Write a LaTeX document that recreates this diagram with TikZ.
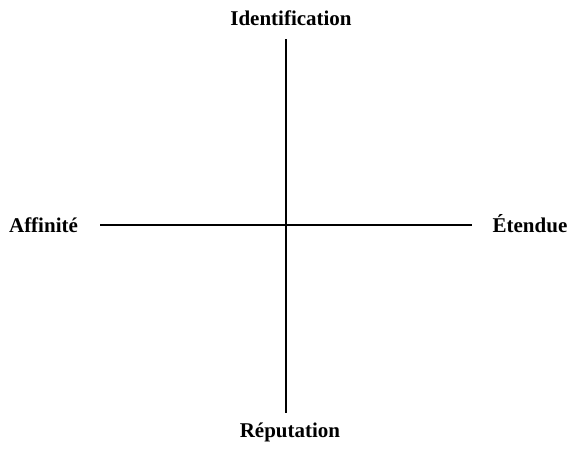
\documentclass[tikz,border=0pt]{standalone}
\usepackage{fontspec}
\setmainfont{Liberation Serif}
\begin{document}
\begin{tikzpicture}[x=1pt,y=-1pt,line cap=butt,
  axislabel/.style={font=\fontsize{21}{25}\selectfont\bfseries,inner sep=0pt,anchor=base},
  axis/.style={line width=1.1pt}]
\useasboundingbox (0,0) rectangle (571,450);
% labels
\node[axislabel] (ident) at (291,25) {Identification};
\node[axislabel] (repu) at (290,437) {Réputation};
\node[axislabel] (affin) at (43.5,232) {Affinité};
\node[axislabel] (etend) at (530,232) {Étendue};
% axes
\coordinate (top) at (286,39);
\coordinate (bottom) at (286,413);
\coordinate (left) at (100,225);
\coordinate (right) at (472,225);
\draw[axis] (top) -- (bottom) (left) -- (right);
\end{tikzpicture}
\end{document}
